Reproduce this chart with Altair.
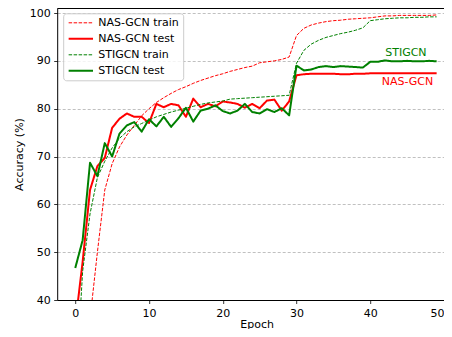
import altair as alt
import pandas as pd

epochs = list(range(50))

nas_train = [15, 27, 36, 50, 63, 68.5, 72, 74.5, 76.5, 78.5,
             80, 81.3, 82.3, 83.2, 84.0, 84.6, 85.3, 85.9, 86.4, 86.9,
             87.3, 87.8, 88.2, 88.6, 88.9, 89.6, 89.8, 90.0, 90.3, 90.8,
             95.3, 96.8, 97.5, 97.9, 98.2, 98.4, 98.5, 98.7, 98.8, 98.9,
             99.0, 99.2, 99.4, 99.4, 99.5, 99.5, 99.5, 99.5, 99.5, 99.6]
nas_test = [35, 48, 63, 68, 69.7, 76.0, 77.9, 79.0, 78.3, 78.3,
            77.0, 81.0, 80.3, 81.0, 80.7, 78.3, 82.1, 80.3, 81.0, 80.5,
            81.5, 81.3, 81.0, 80.2, 81.0, 80.1, 81.7, 81.9, 79.6, 81.5,
            87.0, 87.2, 87.3, 87.3, 87.3, 87.3, 87.2, 87.2, 87.3, 87.3,
            87.4, 87.4, 87.4, 87.4, 87.4, 87.4, 87.4, 87.4, 87.4, 87.4]
stig_train = [20, 46, 58, 65.6, 69.0, 71.8, 73.8, 75.2, 76.2, 76.9,
              77.6, 78.3, 78.8, 79.3, 79.7, 80.1, 80.5, 80.9, 81.2, 81.4,
              81.6, 82.0, 82.1, 82.2, 82.3, 82.4, 82.5, 82.6, 82.7, 82.8,
              89.5, 92.2, 93.5, 94.3, 94.9, 95.3, 95.7, 96.0, 96.4, 96.9,
              98.4, 98.6, 98.8, 98.9, 99.0, 99.0, 99.1, 99.1, 99.2, 99.2]
stig_test = [46.7, 52.5, 68.7, 65.9, 72.8, 70.0, 74.8, 76.5, 77.2, 75.2,
             77.8, 76.3, 78.3, 76.2, 78.0, 80.2, 77.3, 79.6, 80.0, 80.7,
             79.5, 79.0, 79.6, 81.0, 79.3, 79.0, 79.9, 79.3, 80.1, 78.6,
             89.0, 88.0, 88.2, 88.7, 88.9, 88.7, 88.9, 88.8, 88.7, 88.6,
             89.8, 89.8, 90.1, 89.9, 89.9, 90.0, 89.9, 89.9, 90.0, 89.9]

series_names = ["NAS-GCN train", "NAS-GCN test", "STIGCN train", "STIGCN test"]
series_values = [nas_train, nas_test, stig_train, stig_test]
series_colors = ["#ff0000", "#ff0000", "#008000", "#008000"]
series_dash = [[3.5, 1.5], [1, 0], [3.5, 1.5], [1, 0]]
series_width = [1.0, 2.0, 1.0, 2.0]

ann_labels = ["STIGCN", "NAS-GCN"]
ann_x = [44.83, 45.05]
ann_y = [91.03, 84.97]
ann_colors = ["#008000", "#ff0000"]

x_ticks = [0, 10, 20, 30, 40, 50]
y_ticks = [40, 50, 60, 70, 80, 90, 100]

rows = []
for name, vals in zip(series_names, series_values):
    for e, v in zip(epochs, vals):
        rows.append({"epoch": e, "acc": v, "series": name})
df = pd.DataFrame(rows)

FONT = "DejaVu Sans"
xscale = alt.Scale(domain=[-2.45, 50], nice=False, zero=False)
yscale = alt.Scale(domain=[40, 101.05], nice=False, zero=False)

legend = alt.Legend(
    title=None, orient="none", legendX=6, legendY=5.3,
    symbolType="M-1,0H5", symbolSize=66,
    labelFontSize=11, labelFont=FONT, labelColor="black",
    labelOffset=20, padding=4, rowPadding=4, labelLimit=300,
    fillColor="rgba(255,255,255,0.8)", strokeColor="#cccccc", cornerRadius=3,
)

lines = alt.Chart(df).mark_line(clip=True, strokeJoin="round").encode(
    x=alt.X("epoch:Q", scale=xscale,
            axis=alt.Axis(values=x_ticks, title="Epoch", grid=False, labelFlush=True,
                          titleX=199.4, titleY=27, titleBaseline="alphabetic")),
    y=alt.Y("acc:Q", scale=yscale,
            axis=alt.Axis(values=y_ticks, title="Accuracy (%)", grid=True, format="d",
                          titlePadding=5)),
    color=alt.Color("series:N", scale=alt.Scale(domain=series_names, range=series_colors), legend=legend),
    strokeDash=alt.StrokeDash("series:N", scale=alt.Scale(domain=series_names, range=series_dash), legend=legend),
    strokeWidth=alt.StrokeWidth("series:N", scale=alt.Scale(type="ordinal", domain=series_names, range=series_width), legend=legend),
)

texts = []
for lab, xv, yv, col in zip(ann_labels, ann_x, ann_y, ann_colors):
    tdf = pd.DataFrame({"epoch": [xv], "acc": [yv], "label": [lab]})
    t = alt.Chart(tdf).mark_text(color=col, fontSize=11, font=FONT, align="center",
                                 baseline="alphabetic").encode(
        x=alt.X("epoch:Q", scale=xscale,
                axis=alt.Axis(orient="top", labels=False, ticks=False, title=None, grid=False)),
        y=alt.Y("acc:Q", scale=yscale),
        text="label:N",
    )
    texts.append(t)

chart = alt.layer(lines, *texts).resolve_axis(x="independent").properties(
    width=386.8, height=292,
    autosize="none",
    padding={"left": 49.2, "top": 0, "right": 0, "bottom": 29},
).configure_view(stroke=None).configure_axis(
    labelFont=FONT, titleFont=FONT, labelFontSize=11, titleFontSize=11,
    titleFontWeight="normal", labelColor="black", titleColor="black",
    domainColor="black", domainWidth=1, tickColor="black", tickSize=3.5, tickWidth=0.8,
    labelPadding=3.5, gridColor="#b0b0b0", gridDash=[3, 2], gridWidth=0.8,
).configure_text(font=FONT)

chart.save("out.html", embed_options={"renderer": "svg", "actions": False})
